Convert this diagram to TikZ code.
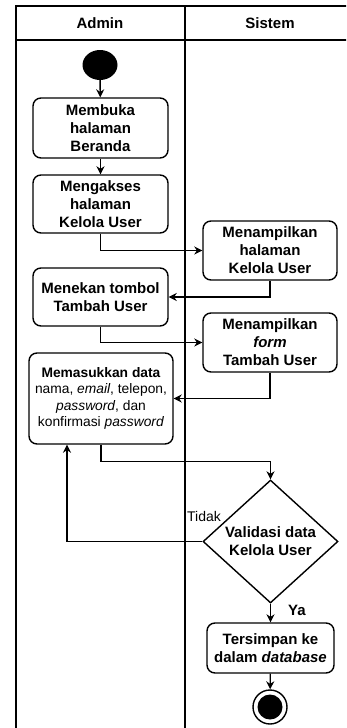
\documentclass[tikz,border=0pt]{standalone}
\usepackage{fontspec}
\setmainfont{Liberation Sans}
\usetikzlibrary{arrows.meta, shapes.geometric}

\begin{document}
\begin{tikzpicture}[x=1pt, y=-1pt,
    font=\fontsize{15}{18}\selectfont\bfseries,
    box/.style={rectangle, draw, rounded corners=8pt, line width=1.4pt, align=center, inner sep=2pt},
    decision/.style={diamond, draw, line width=1.4pt, align=center, inner sep=0pt},
    arrow/.style={-{Stealth[length=8pt, width=8pt]}, line width=1.4pt},
    lane/.style={line width=1.6pt}]

    \useasboundingbox (0,0) rectangle (346,728);
    \clip (0,0) rectangle (346,728);

    % swimlane
    \draw[lane] (16,740) -- (16,6) -- (360,6);
    \draw[lane] (16,40) -- (360,40);
    \draw[lane] (185,6) -- (185,740);
    \node (admin) at (100,23) {Admin};
    \node (sistem) at (270,23) {Sistem};

    % node
    \node[ellipse, fill=black, minimum width=35pt, minimum height=30pt, inner sep=0pt] (mulai) at (100,65) {};
    \node[box, minimum width=135pt, minimum height=60pt] (membuka) at (100.5,128) {Membuka\\halaman\\Beranda};
    \node[box, minimum width=135pt, minimum height=58pt] (mengakses) at (100.5,204) {Mengakses\\halaman\\Kelola User};
    \node[box, minimum width=134pt, minimum height=59pt] (tampilHal) at (270,250.5) {Menampilkan\\halaman\\Kelola User};
    \node[box, minimum width=135pt, minimum height=58pt] (menekan) at (100.5,297) {Menekan tombol\\Tambah User};
    \node[box, minimum width=134pt, minimum height=59pt] (tampilForm) at (270,342.5) {Menampilkan\\\textit{form}\\Tambah User};
    \node[box, minimum width=144pt, minimum height=91pt, font=\fontsize{13.8}{16.6}\selectfont] (memasukkan) at (101,398.5)
        {\textbf{Memasukkan data}\\nama, \textit{email}, telepon,\\\textit{password}, dan\\konfirmasi \textit{password}};
    \node[decision, minimum width=135pt, minimum height=123pt] (validasi) at (270.5,541.5) {Validasi data\\Kelola User};
    \node[box, minimum width=127pt, minimum height=50pt] (tersimpan) at (270.5,648) {Tersimpan ke\\dalam \textit{database}};
    \node[circle, draw, line width=1.4pt, minimum size=34pt, inner sep=0pt] (selesai) at (270,707) {};
    \fill (selesai.center) circle (12.5pt);

    % panah
    \draw[arrow] (mulai) -- (membuka);
    \draw[arrow] (membuka) -- (mengakses);
    \draw[arrow] (mengakses.south) |- (tampilHal.west);
    \draw[arrow] (tampilHal.south) |- (menekan.east);
    \draw[arrow] (menekan.south) |- (tampilForm.west);
    \draw[arrow] (tampilForm.south) |- (memasukkan.east);
    \draw[arrow] (memasukkan.south) -- ++(0,17) -| (validasi.north);
    \draw[arrow] (validasi.west) -| ([xshift=-34pt]memasukkan.south);
    \draw[arrow] (validasi) -- (tersimpan);
    \draw[arrow] (tersimpan) -- (selesai);

    % label
    \node[anchor=west, font=\fontsize{14}{16}\selectfont, inner sep=1pt] (tidak) at (186,516) {Tidak};
    \node[anchor=west, inner sep=1pt] (ya) at (287,610) {Ya};
\end{tikzpicture}
\end{document}
